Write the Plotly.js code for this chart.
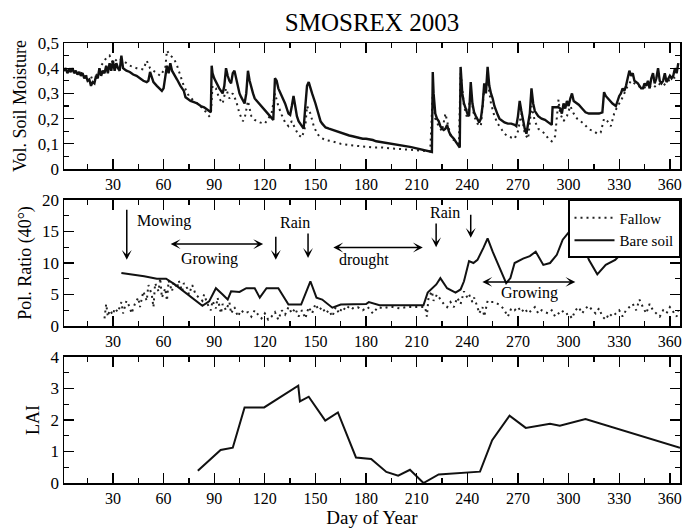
<!DOCTYPE html>
<html>
<head>
<meta charset="utf-8">
<script src="https://cdn.plot.ly/plotly-3.0.1.min.js"></script>
<style>html,body{margin:0;padding:0;background:#fff;}#chart{width:685px;height:529px;}</style>
</head>
<body>
<div id="chart"></div>
<script>
// ---- Top panel: volumetric soil moisture ----
const smBareDays = [1,2,3,4,5,6,7,8,9,10,11,12,13,14,15,16,17,18,19,20,21,22,23,24,25,26,27,28,29,30,31,32,33,34,35,36,37,38,40,42,44,46,48,50,51,52,53,54,56,58,59,60,61,62,63,64,65,66,67,68,70,72,73,74,76,78,80,82,84,86,87,88,
88.5,89,90,91,92,93,94,95,96,97,98,99,100,101,102,103,104,105,106,107,108,109,110,111,112,113,114,116,118,120,122,124,125,126,127,128,130,132,134,135,136,137,138,139,140,141,142,143,144,145,146,147,148,150,152,153,154,156,158,160,162,164,166,168,170,172,174,176,178,180,182,184,186,188,190,192,194,196,198,200,202,204,206,208,210,212,214,216,218,219,
219.5,220,221,222,223,224,225,226,227,228,229,230,232,234,235,235.5,236,237,238,239,240,241,242,243,244,245,246,247,248,249,250,251,252,253,254,255,256,257,258,259,260,262,264,266,268,269,270,271,272,273,274,275,276,277,278,279,280,281,282,284,286,288,289,290,290.5,292,294,295,296,297,298,299,300,301,302,303,304,306,308,310,312,314,316,318,320,321,322,324,326,328,329,330,331,332,333,334,335,336,337,338,339,340,341,342,343,344,345,346,347,348,349,350,351,352,353,354,355,356,357,358,359,360,361,362,363,364,365];
const smBare = [0.39,0.40,0.38,0.395,0.385,0.40,0.38,0.39,0.375,0.385,0.37,0.38,0.36,0.37,0.35,0.355,0.33,0.345,0.34,0.37,0.36,0.40,0.37,0.39,0.38,0.41,0.38,0.42,0.39,0.43,0.39,0.42,0.40,0.39,0.45,0.40,0.395,0.39,0.385,0.375,0.37,0.36,0.35,0.345,0.35,0.385,0.36,0.345,0.33,0.315,0.31,0.32,0.36,0.41,0.38,0.42,0.39,0.38,0.37,0.355,0.33,0.31,0.285,0.28,0.27,0.265,0.26,0.25,0.245,0.235,0.23,0.225,
0.41,0.38,0.36,0.345,0.33,0.32,0.31,0.30,0.33,0.40,0.37,0.35,0.34,0.38,0.39,0.36,0.33,0.30,0.285,0.27,0.26,0.30,0.39,0.35,0.32,0.30,0.28,0.265,0.25,0.235,0.22,0.205,0.195,0.36,0.35,0.32,0.29,0.26,0.22,0.215,0.25,0.29,0.25,0.21,0.19,0.18,0.165,0.16,0.25,0.33,0.345,0.32,0.30,0.26,0.21,0.19,0.18,0.165,0.16,0.155,0.15,0.145,0.14,0.137,0.133,0.13,0.126,0.125,0.12,0.12,0.118,0.115,0.11,0.108,0.106,0.105,0.10,0.10,0.097,0.095,0.092,0.09,0.088,0.085,0.082,0.08,0.077,0.075,0.07,0.068,
0.385,0.30,0.22,0.20,0.19,0.17,0.16,0.155,0.16,0.175,0.15,0.135,0.12,0.10,0.09,0.085,0.405,0.30,0.26,0.24,0.22,0.21,0.345,0.26,0.225,0.21,0.20,0.185,0.20,0.25,0.34,0.30,0.405,0.33,0.30,0.28,0.25,0.23,0.215,0.20,0.195,0.185,0.18,0.18,0.175,0.17,0.21,0.27,0.23,0.19,0.16,0.14,0.18,0.22,0.32,0.26,0.23,0.22,0.21,0.20,0.195,0.185,0.18,0.175,0.245,0.245,0.245,0.24,0.22,0.26,0.24,0.27,0.25,0.28,0.30,0.27,0.265,0.255,0.24,0.225,0.22,0.22,0.22,0.22,0.225,0.305,0.29,0.275,0.26,0.25,0.27,0.29,0.30,0.32,0.31,0.33,0.36,0.39,0.37,0.38,0.35,0.345,0.34,0.33,0.32,0.32,0.34,0.33,0.35,0.32,0.36,0.38,0.34,0.36,0.40,0.35,0.34,0.35,0.38,0.345,0.36,0.37,0.36,0.37,0.40,0.38,0.42];

const smFallowDays = [1,4,8,12,16,20,23,26,28,30,33,36,40,44,48,50,52,55,58,61,62,64,66,68,70,72,75,78,81,84,87,88,89,91,93,95,97,99,101,103,105,107,108,110,112,114,117,120,122,124,126,128,130,132,134,136,138,140,142,144,145,147,149,151,153,156,160,165,170,175,180,185,190,195,200,205,210,215,218,219.5,221,223,225,227,229,231,233,235,236,238,240,242,244,246,248,250,252,254,256,258,260,262,264,266,268,270,272,274,276,278,280,282,284,286,288,290,292,294,295,297,299,301,303,305,307,309,311,313,315,317,319,321,323,325,327,329,331,333,335,337,339,341,344,347,350,353,356,359,362,365];
const smFallow = [0.39,0.40,0.385,0.38,0.36,0.37,0.41,0.44,0.45,0.42,0.44,0.43,0.41,0.40,0.395,0.43,0.40,0.385,0.37,0.40,0.47,0.45,0.44,0.41,0.37,0.33,0.29,0.27,0.255,0.235,0.21,0.215,0.33,0.32,0.28,0.26,0.32,0.28,0.30,0.27,0.22,0.19,0.20,0.27,0.21,0.195,0.185,0.18,0.20,0.22,0.30,0.25,0.215,0.185,0.17,0.19,0.16,0.135,0.125,0.17,0.25,0.22,0.17,0.14,0.125,0.115,0.11,0.10,0.095,0.09,0.088,0.085,0.085,0.082,0.08,0.078,0.075,0.072,0.07,0.30,0.20,0.17,0.15,0.22,0.16,0.12,0.11,0.10,0.38,0.25,0.20,0.30,0.21,0.18,0.17,0.32,0.35,0.26,0.21,0.18,0.16,0.14,0.13,0.125,0.12,0.15,0.22,0.14,0.12,0.25,0.19,0.16,0.15,0.14,0.12,0.11,0.13,0.275,0.22,0.19,0.21,0.25,0.22,0.20,0.19,0.18,0.165,0.155,0.15,0.14,0.145,0.20,0.19,0.17,0.22,0.25,0.27,0.30,0.33,0.35,0.34,0.33,0.32,0.33,0.32,0.34,0.33,0.35,0.36,0.37];

// ---- Middle panel: polarisation ratio (40 deg) ----
const prBareDays = [35,41,48.5,56,61.5,66.6,72,77,83,87,91,95,98,100,105,109,114,117,121,128,134,141.5,147,150.6,154,160,165,180,181.6,188,214,216.5,221.6,224,228,233,236,238,241,243.6,246,249.5,252,255,259,263,265.5,268,273,277,280.5,285,289,293,296.5,302,308,312,317,322,327.6,332.7,338,342,347,352];
const prBare = [8.4,8.2,7.9,7.5,7.5,6.6,5.5,4.5,3.2,3.9,6.0,5.0,4.2,5.5,5.4,6.0,6.0,4.5,6.0,6.0,3.4,3.4,7.1,4.5,4.2,2.9,3.4,3.5,3.8,3.3,3.3,5.3,6.6,7.6,6.0,5.3,5.8,7.1,10.3,10.0,10.5,12.4,13.9,11.8,9.2,6.8,7.6,10.0,10.7,11.1,11.8,9.7,10.0,11.3,13.7,15.5,13.5,10.5,8.2,9.7,10.5,11.8,13.3,13.0,12.6,12.5];

const prFallowDays = [25,26,27,28,30,31,33,35,36,38,40,41,43,45,46,48,50,51,53,54,55,57,58,59,61,62,63,65,66,68,69,71,72,74,75,77,79,81,83,84,86,88,89,91,92,94,95,97,99,100,102,104,106,108,110,112,114,116,118,120,122,124,126,128,130,132,134,136,138,140,142,144,146,148,150,152,154,156,158,160,162,164,166,168,170,172,175,178,181,184,187,190,193,196,200,204,208,212,215,216,217,219,220,222,224,226,228,230,232,234,236,238,240,241,243,244,246,247,249,250,252,254,256,258,260,262,264,266,268,270,272,274,276,278,280,282,284,286,288,290,292,294,296,298,300,302,304,306,308,310,312,314,316,318,320,322,324,326,328,330,332,334,336,338,340,342,344,346,348,350,352,354,356,358,360,362,364,365];
const prFallow = [1.2,3.5,1.5,2.5,1.8,2.8,2.2,3.8,2.0,4.0,3.0,2.0,3.5,4.5,3.0,5.5,4.0,6.5,5.0,3.0,6.8,5.5,7.6,4.5,6.0,4.0,7.2,5.5,7.0,6.0,7.2,5.5,6.8,6.0,5.0,6.5,5.0,4.5,4.0,5.0,3.5,2.5,4.0,2.8,4.5,2.0,3.5,2.5,3.8,2.0,3.0,1.5,2.5,2.0,2.2,1.5,2.5,1.8,1.2,2.0,1.0,1.5,2.2,1.0,2.5,1.8,3.0,2.0,2.8,1.5,2.5,1.2,3.0,2.0,3.5,2.5,3.0,2.0,2.5,1.5,3.0,2.0,3.0,2.5,3.2,2.8,3.0,2.5,3.0,2.0,3.0,2.8,3.0,3.0,2.8,3.0,3.0,2.9,3.0,1.5,4.5,5.5,4.0,5.0,4.2,3.5,3.0,3.8,3.0,4.5,3.5,5.5,4.5,5.0,3.8,4.5,3.0,2.0,3.0,1.5,4.0,3.8,3.8,3.5,3.2,2.5,1.5,2.8,2.5,3.0,2.2,2.8,2.0,2.5,3.0,2.0,2.5,2.2,2.0,2.5,1.5,2.0,2.5,1.8,2.0,1.2,2.5,3.0,2.0,2.8,3.2,2.5,2.0,2.8,1.5,1.0,2.0,1.5,2.0,2.5,1.5,2.5,3.0,3.5,2.5,4.2,3.0,2.0,3.5,2.5,2.0,1.5,2.5,2.0,3.0,2.2,1.5,2.5];

// ---- Bottom panel: LAI ----
const laiDays = [80.3,93.8,101,108,119.6,139.8,140.8,146,155.8,163.3,174,183,192,199,206,214,223,247.5,254.7,265,274.6,289,294.8,310,366];
const lai = [0.39,1.05,1.12,2.40,2.40,3.09,2.59,2.74,1.98,2.24,0.81,0.76,0.35,0.23,0.42,0.0,0.27,0.36,1.36,2.14,1.75,1.88,1.82,2.03,1.12];

// ---- Tick labels / axis titles ----
const chartTitle = 'SMOSREX 2003';
const yTitles = ['Vol. Soil Moisture', 'Pol. Ratio (40°)', 'LAI'];
const xTitle = 'Day of Year';
const seriesNames = ['Fallow', 'Bare soil'];

const FONT = '"Liberation Serif", "Times New Roman", Times, serif';
const dotDash = '2px,4px';

const traces = [
  {x: smFallowDays, y: smFallow, xaxis: 'x', yaxis: 'y', mode: 'lines', showlegend: false,
   line: {color: '#222', width: 2, dash: dotDash}},
  {x: smBareDays, y: smBare, xaxis: 'x', yaxis: 'y', mode: 'lines', showlegend: false,
   line: {color: '#111', width: 2.4}},
  {x: prFallowDays, y: prFallow, xaxis: 'x2', yaxis: 'y2', mode: 'lines', name: seriesNames[0],
   line: {color: '#222', width: 2, dash: dotDash}},
  {x: prBareDays, y: prBare, xaxis: 'x2', yaxis: 'y2', mode: 'lines', name: seriesNames[1],
   line: {color: '#111', width: 2}},
  {x: laiDays, y: lai, xaxis: 'x3', yaxis: 'y3', mode: 'lines', showlegend: false,
   line: {color: '#111', width: 2}}
];

function xAx(anchor, title) {
  const a = {
    anchor: anchor, range: [1, 366], tick0: 30, dtick: 30,
    ticks: 'inside', ticklen: 10, tickwidth: 1.3, tickcolor: '#000',
    minor: {dtick: 15, tick0: 15, ticks: 'inside', ticklen: 5, tickwidth: 1.3, tickcolor: '#000'},
    showline: true, linewidth: 1.5, linecolor: '#000', mirror: 'ticks',
    showgrid: false, zeroline: false,
    tickfont: {family: FONT, size: 16, color: '#000'}
  };
  if (title) a.title = {text: title, font: {family: FONT, size: 19, color: '#000'}, standoff: 4};
  return a;
}
function yAx(domain, range, dtick, mdtick, title) {
  return {
    domain: domain, range: range, dtick: dtick, tick0: 0,
    ticks: 'inside', ticklen: 10, tickwidth: 1.3, tickcolor: '#000',
    minor: {dtick: mdtick, ticks: 'inside', ticklen: 5, tickwidth: 1.3, tickcolor: '#000'},
    showline: true, linewidth: 1.5, linecolor: '#000', mirror: 'ticks',
    showgrid: false, zeroline: false,
    tickfont: {family: FONT, size: 17, color: '#000'},
    title: {text: title, font: {family: FONT, size: 18, color: '#000'}, standoff: 6}
  };
}

const annFont = {family: FONT, size: 16, color: '#000'};
function arrow(x, y, ax, ay, both) {
  return {xref: 'x2', yref: 'y2', axref: 'x2', ayref: 'y2', x: x, y: y, ax: ax, ay: ay,
          text: '', showarrow: true, arrowhead: 3, arrowsize: 1.1, arrowwidth: 1.5,
          arrowcolor: '#000', arrowside: both ? 'end+start' : 'end', startarrowhead: 3, startarrowsize: 1.1};
}
function label(x, y, t) {
  return {xref: 'x2', yref: 'y2', x: x, y: y, text: t, showarrow: false, font: annFont};
}

const annotations = [
  arrow(38.2, 10.5, 38.2, 18.7, false),
  label(60, 16.7, 'Mowing'),
  arrow(119, 13.0, 63.3, 13.0, true),
  label(87.5, 10.6, 'Growing'),
  label(137.8, 16.5, 'Rain'),
  arrow(126.5, 10.5, 126.5, 14.4, false),
  arrow(145.6, 10.8, 145.6, 14.9, false),
  arrow(213.6, 12.45, 159.7, 12.45, true),
  label(179, 10.4, 'drought'),
  label(226.5, 18.0, 'Rain'),
  arrow(221.5, 12.5, 221.5, 16.5, false),
  arrow(242, 14.0, 242, 17.9, false),
  arrow(304, 7.0, 248, 7.0, true),
  label(276.7, 5.2, 'Growing')
];

const layout = {
  width: 685, height: 529,
  margin: {l: 64, r: 5, t: 43, b: 46},
  paper_bgcolor: '#fff', plot_bgcolor: '#fff',
  separators: ', ',
  font: {family: FONT, color: '#000'},
  title: {text: chartTitle, font: {family: FONT, size: 25, color: '#000'},
          xref: 'paper', x: 0.5, xanchor: 'center', yref: 'container', y: 0.958, yanchor: 'middle'},
  xaxis: xAx('y'),
  xaxis2: xAx('y2'),
  xaxis3: xAx('y3', xTitle),
  yaxis: yAx([0.7136, 1], [0, 0.5], 0.1, 0.05, yTitles[0]),
  yaxis2: yAx([0.3568, 0.6432], [0, 20], 5, 2.5, yTitles[1]),
  yaxis3: yAx([0, 0.2864], [0, 4], 1, 0.5, yTitles[2]),
  showlegend: true,
  legend: {x: 1.0, xanchor: 'right', y: 0.6432, yanchor: 'top', bgcolor: '#fff',
           bordercolor: '#000', borderwidth: 1.5, font: {family: FONT, size: 15, color: '#000'},
           tracegroupgap: 0, itemwidth: 40},
  annotations: annotations
};

Plotly.newPlot('chart', traces, layout, {displayModeBar: false, staticPlot: true});
</script>
</body>
</html>
